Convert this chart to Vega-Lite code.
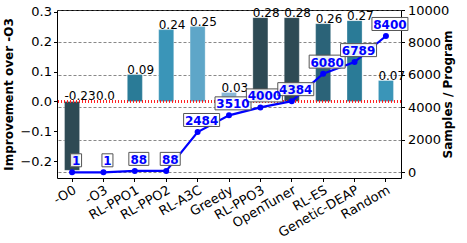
{
  "$schema": "https://vega.github.io/schema/vega-lite/v6.json",
  "width": 344,
  "height": 168,
  "autosize": {"type": "none"},
  "padding": {"left": 57, "top": 10, "right": 66, "bottom": 65},
  "config": {
    "font": "DejaVu Sans",
    "view": {"stroke": "black", "strokeWidth": 1},
    "axis": {"labelFont": "DejaVu Sans", "titleFont": "DejaVu Sans", "labelColor": "black", "titleColor": "black", "tickColor": "black", "domain": false}
  },
  "data": {
    "values": [
      {"method": "-O0", "imp": -0.23, "label": "-0.23", "samples": 1},
      {"method": "-O3", "imp": 0.0, "label": "0.0", "samples": 1},
      {"method": "RL-PPO1", "imp": 0.09, "label": "0.09", "samples": 88},
      {"method": "RL-PPO2", "imp": 0.24, "label": "0.24", "samples": 88},
      {"method": "RL-A3C", "imp": 0.25, "label": "0.25", "samples": 2484},
      {"method": "Greedy", "imp": 0.03, "label": "0.03", "samples": 3510},
      {"method": "RL-PPO3", "imp": 0.28, "label": "0.28", "samples": 4000},
      {"method": "OpenTuner", "imp": 0.28, "label": "0.28", "samples": 4384},
      {"method": "RL-ES", "imp": 0.26, "label": "0.26", "samples": 6080},
      {"method": "Genetic-DEAP", "imp": 0.27, "label": "0.27", "samples": 6789},
      {"method": "Random", "imp": 0.07, "label": "0.07", "samples": 8400}
    ]
  },
  "encoding": {
    "x": {
      "field": "method", "type": "nominal", "sort": null,
      "scale": {"paddingInner": 0.52, "paddingOuter": 0.24},
      "axis": {"title": null, "labelAngle": -30, "labelAlign": "right", "labelBaseline": "top", "labelFontSize": 13, "tickSize": 3.5, "labelPadding": 2, "grid": false}
    }
  },
  "layer": [
    {
      "encoding": {
        "y": {
          "field": "imp", "type": "quantitative",
          "scale": {"domain": [-0.2555, 0.3055], "nice": false, "zero": false},
          "axis": {"title": "Improvement over -O3", "titleFontSize": 12, "titleFontWeight": "bold", "labelFontSize": 13, "values": [-0.2, -0.1, 0, 0.1, 0.2, 0.3], "format": ".1f", "grid": false, "tickSize": 3.5, "labelPadding": 2, "titlePadding": 4}
        }
      },
      "layer": [
        {
          "mark": {"type": "bar", "stroke": "white", "strokeWidth": 0.5, "strokeOpacity": 0.6},
          "encoding": {
            "color": {
              "field": "method", "type": "nominal", "legend": null,
              "scale": {
                "domain": ["-O0", "-O3", "RL-PPO1", "RL-PPO2", "RL-A3C", "Greedy", "RL-PPO3", "OpenTuner", "RL-ES", "Genetic-DEAP", "Random"],
                "range": ["#2e4a54", "#2e4a54", "#2a7b97", "#3a95b8", "#5ea6c8", "#8ab8d6", "#2e4a54", "#2e4a54", "#2b6378", "#2a7b97", "#3a95b8"]
              }
            }
          }
        },
        {
          "mark": {"type": "rule", "color": "#ff2020", "strokeDash": [1, 2], "strokeWidth": 1.3},
          "encoding": {"y": {"datum": 0}, "x": null}
        },
        {
          "transform": [{"calculate": "max(datum.imp, 0)", "as": "labelY"}],
          "mark": {"type": "text", "align": "left", "baseline": "alphabetic", "fontSize": 12, "color": "black", "dy": -1},
          "encoding": {
            "x": {"field": "method", "type": "nominal", "sort": null, "bandPosition": 0},
            "y": {"field": "labelY", "type": "quantitative"},
            "text": {"field": "label"}
          }
        }
      ]
    },
    {
      "encoding": {
        "y": {
          "field": "samples", "type": "quantitative",
          "scale": {"domain": [-350, 10000], "nice": false, "zero": false},
          "axis": {"orient": "right", "title": "Samples / Program", "titleAngle": 270, "titleFontSize": 12, "titleFontWeight": "bold", "labelFontSize": 13, "format": "d", "values": [0, 2000, 4000, 6000, 8000, 10000], "grid": true, "gridColor": "#555", "gridDash": [3, 2], "gridWidth": 0.7, "tickSize": 3.5, "labelPadding": 3, "titlePadding": 6}
        }
      },
      "layer": [
        {
          "mark": {"type": "line", "color": "#0000ff", "strokeWidth": 2.2, "point": {"filled": true, "color": "#0000ff", "size": 36}}
        },
        {
          "transform": [{"calculate": "'' + length('' + datum.samples)", "as": "digits"}],
          "mark": {"type": "point", "filled": true, "fill": "white", "fillOpacity": 0.9, "stroke": "#555", "strokeWidth": 1, "size": 400, "xOffset": 4, "yOffset": -12},
          "encoding": {
            "shape": {
              "field": "digits", "type": "nominal", "legend": null,
              "scale": {"domain": ["1", "2", "4"], "range": ["M-0.55,-0.65H0.55V0.65H-0.55Z", "M-1,-0.65H1V0.65H-1Z", "M-1.8,-0.65H1.8V0.65H-1.8Z"]}
            }
          }
        },
        {
          "mark": {"type": "text", "align": "center", "baseline": "middle", "fontSize": 12, "fontWeight": "bold", "color": "#0000ff", "dx": 4, "dy": -11},
          "encoding": {"text": {"field": "samples", "type": "quantitative", "format": "d"}}
        }
      ]
    }
  ],
  "resolve": {"scale": {"y": "independent"}}
}
